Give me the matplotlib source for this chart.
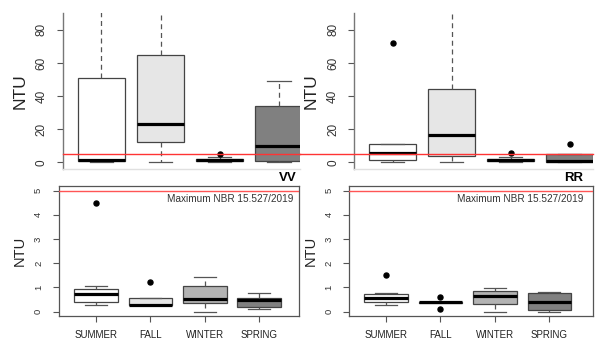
#!/usr/bin/env python3

import matplotlib
matplotlib.use('Agg')
import matplotlib.pyplot as plt

plt.rcParams['font.family'] = ['Liberation Sans', 'DejaVu Sans']

seasons = ["SUMMER", "FALL", "WINTER", "SPRING"]
box_colors = ["#ffffff", "#e6e6e6", "#b3b3b3", "#808080"]
limit_ntu = 5

# turbidity, full range (NTU) - whiskers above 90 run off the plot
vv_all_whislo = [0.2, 0.3, 0.3, 0.0]
vv_all_q1 = [0.6, 12.0, 0.8, 0.6]
vv_all_med = [1.2, 23.0, 1.5, 10.0]
vv_all_q3 = [51.0, 65.0, 2.2, 34.0]
vv_all_whishi = [130.0, 130.0, 3.0, 49.0]
vv_all_fliers = [[], [], [5.0], []]

rr_all_whislo = [0.3, 0.3, 0.3, 0.0]
rr_all_q1 = [1.5, 3.8, 0.8, 0.2]
rr_all_med = [5.8, 16.3, 1.6, 1.0]
rr_all_q3 = [11.3, 44.0, 2.3, 4.8]
rr_all_whishi = [11.3, 130.0, 3.0, 4.8]
rr_all_fliers = [[72.3], [], [5.8], [11.3]]

# treated water (NTU)
vv_whislo = [0.26, 0.26, 0.0, 0.11]
vv_q1 = [0.41, 0.26, 0.35, 0.17]
vv_med = [0.73, 0.28, 0.52, 0.48]
vv_q3 = [0.92, 0.58, 1.06, 0.55]
vv_whishi = [1.07, 0.58, 1.43, 0.78]
vv_fliers = [[4.5], [1.23], [], []]

rr_whislo = [0.29, 0.38, 0.0, 0.0]
rr_q1 = [0.41, 0.37, 0.32, 0.06]
rr_med = [0.58, 0.38, 0.66, 0.41]
rr_q3 = [0.73, 0.39, 0.83, 0.77]
rr_whishi = [0.75, 0.39, 0.99, 0.79]
rr_fliers = [[1.5], [0.6, 0.1], [], []]


def make_stats(whislo, q1, med, q3, whishi, fliers):
	return [dict(whislo=a, q1=b, med=c, q3=d, whishi=e, fliers=f)
		for a, b, c, d, e, f in zip(whislo, q1, med, q3, whishi, fliers)]


def draw_boxes(ax, stats):
	res = ax.bxp(stats, positions=range(1, 5), widths=0.8, patch_artist=True,
		showfliers=True, capwidths=0.4,
		boxprops=dict(edgecolor="#444444", linewidth=0.9),
		medianprops=dict(color="black", linewidth=2.3, solid_capstyle='butt'),
		whiskerprops=dict(color="#555555", linewidth=0.9, linestyle=(0, (4, 3))),
		capprops=dict(color="#555555", linewidth=0.9),
		flierprops=dict(marker='o', markerfacecolor='black', markeredgecolor='black',
			markersize=3.6))
	for patch, c in zip(res['boxes'], box_colors):
		patch.set_facecolor(c)
	return res


def style_y(ax, labelsize, pad, ylabel_size, labelpad):
	ax.tick_params(axis='y', labelrotation=90, labelsize=labelsize, length=4.5,
		width=0.8, color="#555555", labelcolor="#333333", pad=pad)
	for lbl in ax.get_yticklabels():
		lbl.set_va('center')
	ax.set_ylabel("NTU", fontsize=ylabel_size, color="#222222", labelpad=labelpad)


fig = plt.figure(figsize=(6.03, 3.47), dpi=100)

# upper panels: full range, only left axis drawn
top_axes = [
	(fig.add_axes([0.1045, 0.512, 0.393, 0.450]), vv_all_whislo, vv_all_q1, vv_all_med,
		vv_all_q3, vv_all_whishi, vv_all_fliers, (0.35, 4.36), 0.0),
	(fig.add_axes([0.5876, 0.512, 0.396, 0.450]), rr_all_whislo, rr_all_q1, rr_all_med,
		rr_all_q3, rr_all_whishi, rr_all_fliers, (0.35, 4.4), -0.227),
]
for ax, wl, q1, md, q3, wh, fl, xl, line_start in top_axes:
	draw_boxes(ax, make_stats(wl, q1, md, q3, wh, fl))
	ax.axhline(limit_ntu, xmin=line_start, xmax=1, color="#ff3333", linewidth=1.0,
		clip_on=False, zorder=5)
	ax.set_xlim(*xl)
	ax.set_ylim(-4.2, 90)
	ax.set_yticks([0, 20, 40, 60, 80])
	ax.set_xticks([])
	for s in ('top', 'right'):
		ax.spines[s].set_visible(False)
	ax.spines['left'].set_color("#777777")
	ax.spines['left'].set_linewidth(1.0)
	ax.spines['bottom'].set_color("#e0e0e0")
	ax.spines['bottom'].set_linewidth(1.0)
	style_y(ax, 8.5, 6.5, 12.5, 6)

# lower panels: zoom on the 0-5 NTU band
bottom_axes = [
	(fig.add_axes([0.0978, 0.0902, 0.398, 0.3746]), vv_whislo, vv_q1, vv_med,
		vv_q3, vv_whishi, vv_fliers, (0.32, 4.73), "VV", 0.99, 0.975),
	(fig.add_axes([0.5793, 0.0902, 0.404, 0.3746]), rr_whislo, rr_q1, rr_med,
		rr_q3, rr_whishi, rr_fliers, (0.33, 4.8), "RR", 0.96, 0.959),
]
for ax, wl, q1, md, q3, wh, fl, xl, name, name_x, note_x in bottom_axes:
	draw_boxes(ax, make_stats(wl, q1, md, q3, wh, fl))
	ax.axhline(limit_ntu, color="#ff5555", linewidth=1.0, zorder=5)
	ax.set_xlim(*xl)
	ax.set_ylim(-0.17, 5.2)
	ax.set_yticks(range(6))
	ax.set_xticks(range(1, 5))
	ax.set_xticklabels(seasons)
	ax.tick_params(axis='x', labelsize=7, length=4, width=0.8, color="#555555",
		labelcolor="#222222", pad=6)
	for s in ax.spines.values():
		s.set_color("#555555")
		s.set_linewidth(0.9)
	style_y(ax, 6.8, 7, 10.5, 5)
	ax.text(note_x, 0.895, "Maximum NBR 15.527/2019", transform=ax.transAxes,
		ha='right', va='center', fontsize=7.2, color="#333333")
	ax.text(name_x, 1.01, name, transform=ax.transAxes, ha='right', va='bottom',
		fontsize=9.5, fontweight='bold', color="black")

fig.savefig("out.png", dpi=100)
